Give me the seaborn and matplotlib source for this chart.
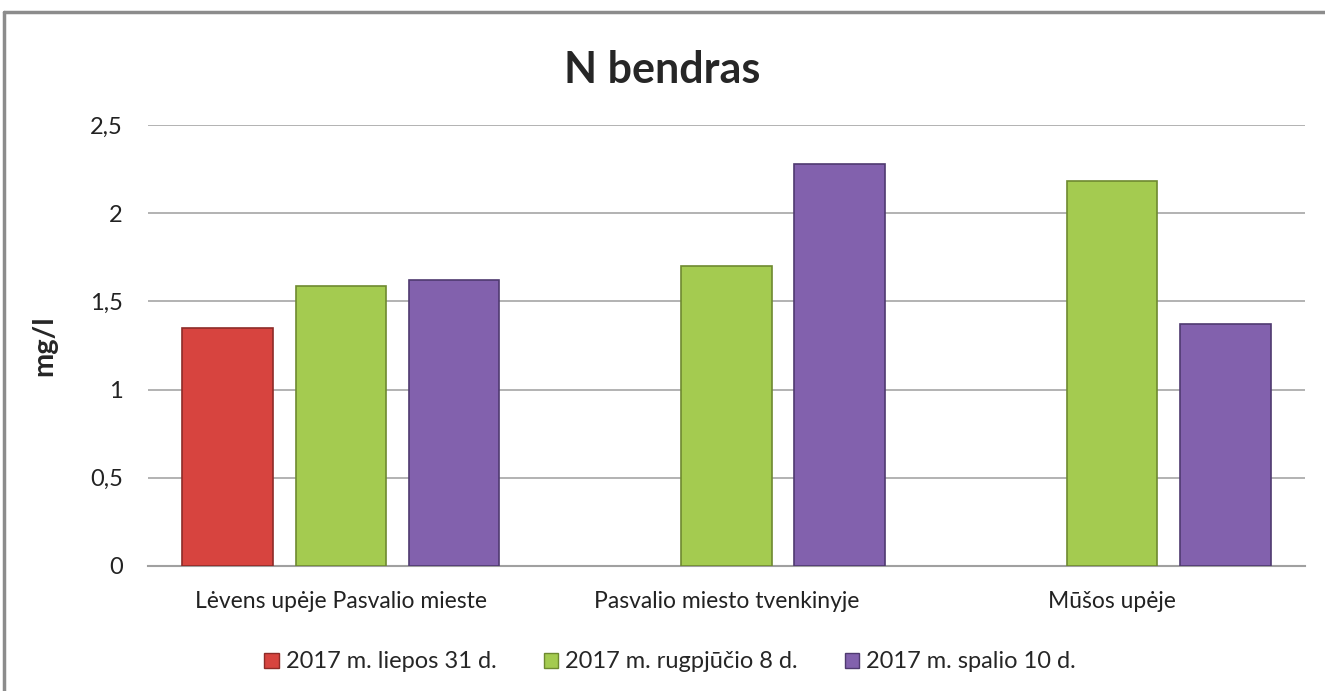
import numpy as np
import pandas as pd
import matplotlib
matplotlib.use('Agg')  # headless
import matplotlib.pyplot as plt
from matplotlib.lines import Line2D
from matplotlib.patches import Patch
import seaborn as sns

# data
sites = ['Lėvens upėje Pasvalio mieste', 'Pasvalio miesto tvenkinyje', 'Mūšos upėje']
dates = ['2017 m. liepos 31 d.', '2017 m. rugpjūčio 8 d.', '2017 m. spalio 10 d.']
n_jul31 = [1.35, np.nan, np.nan]
n_aug08 = [1.59, 1.70, 2.18]
n_oct10 = [1.62, 2.28, 1.37]
colors = ['#D7443F', '#A4CB50', '#8261AD']
edges = ['#8E2B28', '#6E8A30', '#4F3A70']
yticks = [0, 0.5, 1, 1.5, 2, 2.5]

df = pd.DataFrame({'site': sites * 3,
                   'date': [dates[0]] * 3 + [dates[1]] * 3 + [dates[2]] * 3,
                   'val': n_jul31 + n_aug08 + n_oct10})

sns.set_style('white')
plt.rcParams['font.family'] = ['Lato', 'DejaVu Sans']

fig = plt.figure(figsize=(13.25, 6.91), dpi=100)  # canvas
ax = fig.add_axes([148 / 1325, 1 - 566 / 691, 1157 / 1325, 441 / 691])

sns.barplot(data=df, x='site', y='val', hue='date', hue_order=dates, order=sites,
            palette=colors, saturation=1, width=0.88, gap=0.2, ax=ax, legend=False, zorder=3)

# darker outline per series
for cont, ec in zip(ax.containers, edges):
    for bar in cont:
        bar.set_edgecolor(ec)
        bar.set_linewidth(1.2)

ax.set_ylim(0, 2.5)
ax.set_yticks(yticks)
ax.set_yticklabels([f'{t:g}'.replace('.', ',') for t in yticks], fontsize=17, color='#222222')
ax.tick_params(axis='x', labelsize=16.5, colors='#222222', length=0, pad=18)
ax.tick_params(axis='y', length=0, pad=18)
ax.yaxis.grid(True, color='#a6a6a6', lw=1.2, zorder=0)
ax.set_axisbelow(True)
for s in ['top', 'right', 'left']:
    ax.spines[s].set_visible(False)
ax.spines['bottom'].set_color('#a0a0a0')
ax.spines['bottom'].set_linewidth(1.5)
ax.set_xlabel('')
ax.set_ylabel('mg/l', fontsize=21, fontweight='bold', labelpad=24)

fig.text(0.5, 1 - 70 / 691, 'N bendras', ha='center', va='center', fontsize=31, fontweight='bold')

handles = [Patch(facecolor=c, edgecolor=e, lw=1) for c, e in zip(colors, edges)]
fig.legend(handles, dates, loc='center', bbox_to_anchor=(670 / 1325, 1 - 662 / 691), ncol=3,
           frameon=False, fontsize=17, handlelength=0.6, handleheight=0.6,
           handletextpad=0.3, columnspacing=2.0)

# chart frame (top and left edges visible)
fig.add_artist(Line2D([4 / 1325, 4 / 1325], [0, 1 - 12 / 691], color='#8c8c8c', lw=2.5))
fig.add_artist(Line2D([4 / 1325, 1], [1 - 12 / 691, 1 - 12 / 691], color='#8c8c8c', lw=2.5))

plt.savefig('out.png', dpi=100)
plt.close()
